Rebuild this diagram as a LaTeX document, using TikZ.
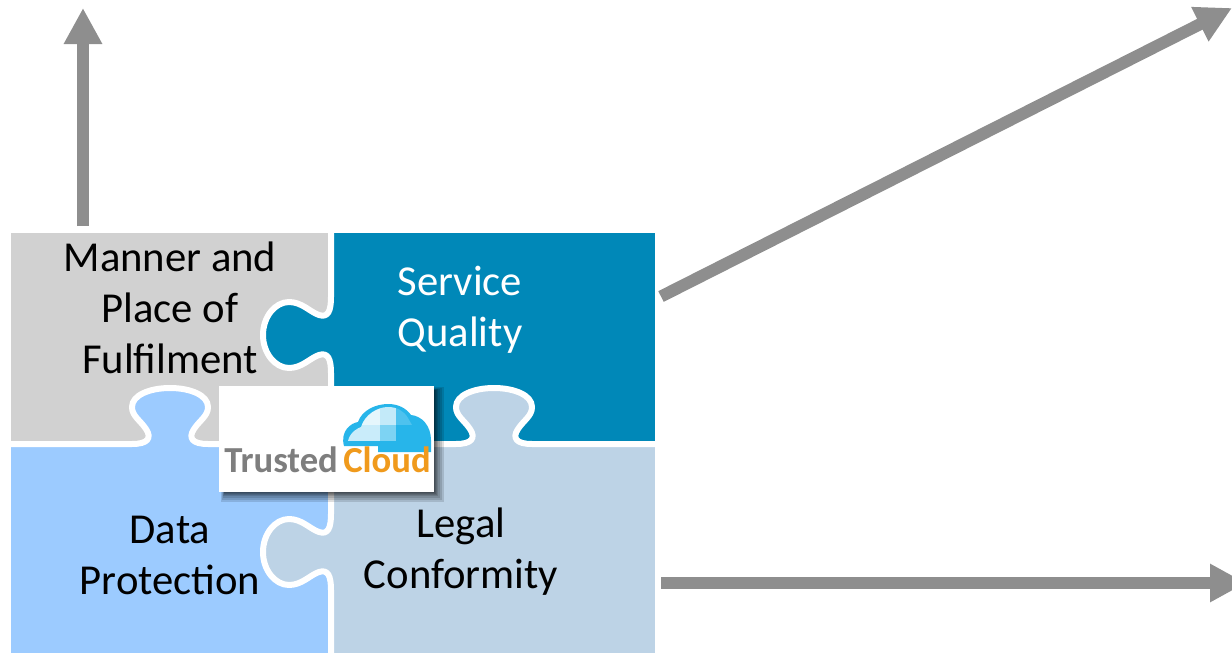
\documentclass[tikz,border=0pt]{standalone}
\usepackage{fontspec}
\setmainfont{Carlito}
\usetikzlibrary{arrows.meta,calc}
\definecolor{pgray}{HTML}{D1D1D1}
\definecolor{pteal}{HTML}{0088B8}
\definecolor{psky}{HTML}{9CCBFF}
\definecolor{ppale}{HTML}{BDD3E6}
\definecolor{agray}{HTML}{8E8E8E}
\definecolor{lcyan}{HTML}{27B5EA}
\definecolor{lorange}{HTML}{F09A1C}
\definecolor{lgray}{HTML}{7E7E7E}
\tikzset{
  x=0.75pt,y=-0.75pt,
  piece/.style={inner sep=0pt,outer sep=0pt,draw=none,anchor=north west},
  seam/.style={draw=white,line width=4.5pt,line join=round},
  conn/.style={draw=agray,line width=9pt,-{Triangle[length=27pt,width=27pt]}},
  lab/.style={font=\fontsize{32}{38.25}\selectfont,align=center,inner sep=0pt},
  logotext/.style={font=\fontsize{27.5}{30}\selectfont\bfseries,inner sep=0pt,anchor=base west},
}
% tab pointing up: #1 centre x
\def\vtab#1{(#1-50,444) -- (#1-38,444) .. controls (#1-22,444) and (#1-18,438) .. (#1-24,429) .. controls (#1-30,420) and (#1-38,416) .. (#1-38,407) .. controls (#1-38,395) and (#1-20,388) .. (#1,388) .. controls (#1+20,388) and (#1+38,395) .. (#1+38,407) .. controls (#1+38,416) and (#1+30,420) .. (#1+24,429) .. controls (#1+18,438) and (#1+22,444) .. (#1+38,444) -- (#1+50,444)}
% tab pointing left: #1 centre y
\def\htab#1{(331,#1-50) -- (331,#1-38) .. controls (331,#1-24) and (328,#1-17) .. (319,#1-20) .. controls (310,#1-23) and (302,#1-33) .. (289,#1-33) .. controls (275,#1-33) and (263,#1-18) .. (263,#1) .. controls (263,#1+18) and (275,#1+33) .. (289,#1+33) .. controls (302,#1+33) and (310,#1+23) .. (319,#1+20) .. controls (328,#1+17) and (331,#1+24) .. (331,#1+38) -- (331,#1+50)}
\begin{document}
\begin{tikzpicture}
\useasboundingbox (0,0) rectangle (1232,653);
\clip (0,0) rectangle (1232,653);
% pieces
\node[piece,fill=pgray,minimum width=320*0.75pt,minimum height=211*0.75pt] (gray) at (11,233) {};
\node[piece,fill=pteal,minimum width=324*0.75pt,minimum height=211*0.75pt] (teal) at (331,233) {};
\node[piece,fill=psky,minimum width=320*0.75pt,minimum height=209*0.75pt] (sky) at (11,444) {};
\node[piece,fill=ppale,minimum width=324*0.75pt,minimum height=209*0.75pt] (pale) at (331,444) {};
% tabs
\fill[psky] \vtab{170} -- cycle;
\fill[ppale] \vtab{494} -- cycle;
\fill[pteal] \htab{335} -- cycle;
\fill[ppale] \htab{552} -- cycle;
% seams
\draw[seam] (11,444) -- (120,444) \vtab{170} -- (444,444) \vtab{494} -- (655,444);
\draw[seam] (331,233) -- (331,285) \htab{335} -- (331,502) \htab{552} -- (331,653);
% labels
\node[lab] (t1) at (170,308) {Manner and\\Place of\\Fulfilment};
\node[lab,text=white] (t2) at (460,310) {Service\\Quality};
\node[lab] (t3) at (170,555) {Data\\Protection};
\node[lab] (t4) at (461,552) {Legal\\Conformity};
% logo shadow
\foreach \d in {12,10,8,6,5,4,3,2}{
  \fill[black,opacity=0.13] (225-\d*0.3,391-\d*0.3) rectangle (432+\d,490+\d);
}
\node[piece,fill=white,minimum width=215*0.75pt,minimum height=106*0.75pt] (logo) at (219,386) {};
\path[fill=lcyan] (344,446) .. controls (340,431) and (351,423) .. (358,422) .. controls (362,410) and (376,404) .. (388,404) .. controls (398,404) and (406,408) .. (411,415) .. controls (422,416) and (431,426) .. (431,440) -- (431,452) -- (378,452) -- (378,446) -- cycle;
\begin{scope}
\clip (348,441) .. controls (350,432) and (358,428) .. (361,427) .. controls (365,414) and (378,407) .. (388,407) .. controls (397,407) and (404,411) .. (408,418) -- (412,425) -- (396,441) -- cycle;
\fill[white!88!lcyan] (345,404) rectangle (380,425);
\fill[white!72!lcyan] (380,404) rectangle (396,425);
\fill[white!75!lcyan] (345,425) rectangle (380,441);
\fill[white!40!lcyan] (380,425) rectangle (396,441);
\fill[white!18!lcyan] (396,404) rectangle (415,425);
\end{scope}
\node[logotext,text=lgray] (l1) at (224,472) {Trusted};
\node[logotext,text=lorange] (l2) at (343,472) {Cloud};
% connectors
\coordinate (up) at (83,8);
\coordinate (ur) at (1232,8);
\coordinate (rr) at (1246,583);
\coordinate (s1) at (83,226);
\coordinate (s2) at (661,296.5);
\coordinate (s3) at (661,583);
\draw[conn] (s1) -- (up);
\draw[conn] (s2) -- (ur);
\draw[conn] (s3) -- (rr);
\end{tikzpicture}
\end{document}
